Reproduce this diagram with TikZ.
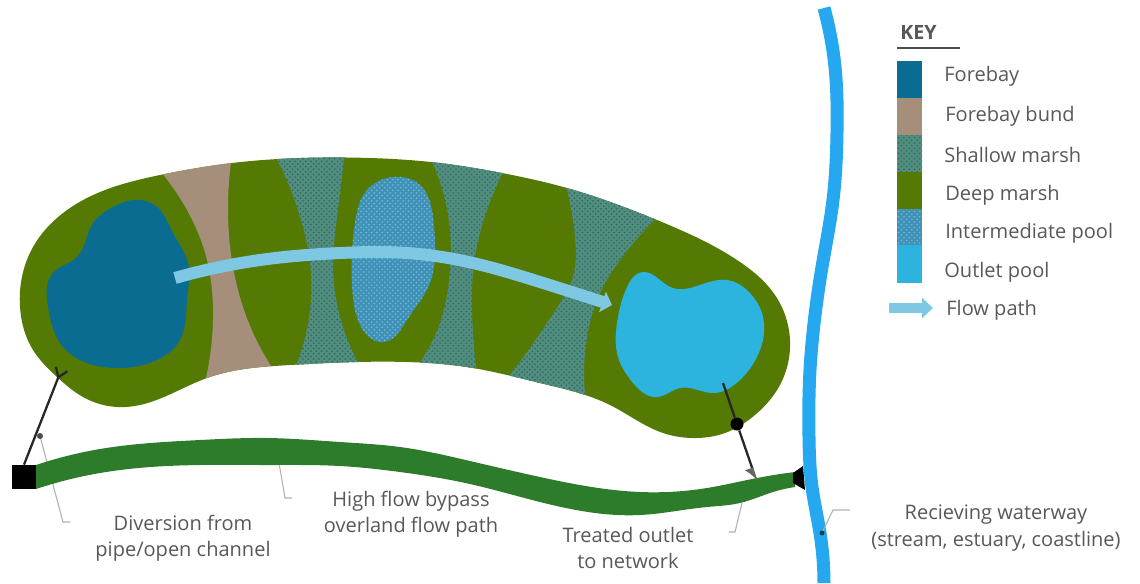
\documentclass[tikz,border=0pt]{standalone}
\usepackage{fontspec}
\setmainfont{Open Sans}
\usepackage{xcolor}
\definecolor{wlforebay}{RGB}{10,108,145}
\definecolor{wlbund}{RGB}{165,143,122}
\definecolor{wlshallow}{RGB}{80,142,128}
\definecolor{wldeep}{RGB}{84,122,4}
\definecolor{wlinter}{RGB}{62,146,184}
\definecolor{wloutlet}{RGB}{44,180,222}
\definecolor{wlflow}{RGB}{126,200,228}
\definecolor{wlriver}{RGB}{38,168,240}
\definecolor{wlbypass}{RGB}{44,124,44}
\definecolor{wltext}{RGB}{88,88,88}
\definecolor{wlleader}{RGB}{176,176,176}
\usetikzlibrary{arrows.meta,patterns,hobby}
\tikzset{
  txt/.style={font=\fontsize{11.4}{14.9}\selectfont,text=wltext,inner sep=0pt,align=center},
  keytxt/.style={txt,anchor=west},
  leader/.style={draw=wlleader,line width=0.6pt},
  pipeline/.style={draw=black!85,line width=1.3pt},
  shallow/.style={preaction={fill=wlshallow},pattern=crosshatch dots,pattern color=wlshallow!70!black},
  interpool/.style={preaction={fill=wlinter},pattern=crosshatch dots,pattern color=wlinter!65!white},
  flow/.style={draw=wlflow,line width=0.24cm,-{Triangle[length=0.2cm,width=0.42cm]}},
  blob/.style={use Hobby shortcut,closed=true}
}
\newcommand{\bodyline}{(20,307) .. (33,247) .. (63,213) .. (100,192) .. (160,175) .. (232,163) .. (300,158) .. (370,158) .. (440,163) .. (502,173) .. (567,188) .. (657,220) .. (740,262) .. (775,295) .. (790,340) .. (780,385) .. (755,415) .. (725,433) .. (693,438) .. (663,433) .. (610,405) .. (540,383) .. (473,368) .. (407,362) .. (357,362) .. (290,365) .. (207,378) .. (140,405) .. (117,407) .. (83,397) .. (57,377) .. (33,350)}
\begin{document}
\begin{tikzpicture}[x=0.02cm,y=-0.02cm]
  \useasboundingbox (0,0) rectangle (1140,583);
  \fill[blob,wldeep] \bodyline;
  \begin{scope}
    \clip[blob] \bodyline;
    \fill[use Hobby shortcut,wlbund] (155,165) .. (187,210) .. (207,260) .. (213,310) .. (203,390) -- (285,385) .. (260,347) .. (233,267) .. (228,210) .. (232,155) -- cycle;
    \path[use Hobby shortcut,shallow] (272,150) .. (303,227) .. (310,263) .. (310,310) .. (292,375) -- (365,375) .. (340,317) .. (333,263) .. (337,217) .. (345,150) -- cycle;
    \path[use Hobby shortcut,shallow] (426,150) .. (450,230) .. (450,270) .. (440,323) .. (410,375) -- (478,385) .. (473,333) .. (473,273) .. (480,233) .. (510,160) -- cycle;
    \path[use Hobby shortcut,shallow] (563,175) .. (575,237) .. (572,280) .. (560,303) .. (500,388) -- (588,415) .. (587,337) .. (600,293) .. (620,260) .. (665,210) -- cycle;
  \end{scope}
  \fill[blob,wlforebay] (133,200) .. (157,207) .. (173,233) .. (188,263) .. (187,300) .. (180,340) .. (157,360) .. (120,368) .. (87,363) .. (63,347) .. (48,307) .. (53,273) .. (77,257) .. (93,223) .. (113,207);
  \path[blob,interpool] (393,177) .. (420,185) .. (433,217) .. (435,250) .. (430,283) .. (407,320) .. (383,342) .. (363,330) .. (353,297) .. (355,223) .. (367,190);
  \fill[blob,wloutlet] (643,272) .. (660,280) .. (673,288) .. (700,285) .. (727,280) .. (750,293) .. (762,313) .. (757,357) .. (740,380) .. (713,393) .. (680,388) .. (657,397) .. (633,383) .. (618,357) .. (617,323) .. (627,287);
  \draw[use Hobby shortcut,flow] (175,278) .. (260,260) .. (340,253) .. (407,253) .. (473,263) .. (540,282) .. (612,305);
  \draw[use Hobby shortcut,wlriver,line width=0.26cm] (824,8) .. (835,67) .. (837,133) .. (833,200) .. (822,267) .. (813,333) .. (810,370) .. (809,437) .. (812,487) .. (820,533) .. (824,583);
  \node[txt] (divlabel) at (183,538) {Diversion from\\pipe/open channel};
  \node[txt] (bypasslabel) at (411,514) {High flow bypass\\overland flow path};
  \node[txt] (outletlabel) at (628,548) {Treated outlet\\to network};
  \node[txt] (riverlabel) at (996,528) {Recieving waterway\\(stream, estuary, coastline)};
  \coordinate (divtip) at (40,436);
  \coordinate (divelbow) at (63,522);
  \coordinate (bypasstip) at (278,457);
  \coordinate (bypasselbow) at (285,498);
  \coordinate (outlettip) at (742,503);
  \coordinate (outletelbow) at (735,532);
  \coordinate (rivertip) at (822,533);
  \coordinate (riverelbow) at (833,510);
  \draw[leader] (divtip) -- (divelbow) -- ([xshift=-14]divlabel.west |- divelbow);
  \fill[black!70] (divtip) circle (3);
  \draw[leader] (bypasstip) -- (bypasselbow) -- ([xshift=-18]bypasslabel.west |- bypasselbow);
  \draw[leader] (outlettip) -- (outletelbow) -- ([xshift=20]outletlabel.east |- outletelbow);
  \draw[leader] (rivertip) -- (riverelbow) -- ([xshift=-12]riverlabel.west |- riverelbow);
  \fill[wlforebay!60!black] (rivertip) circle (2.5);
  \fill[black!65] (bypasstip) circle (2);
  \fill[use Hobby shortcut,wlbypass] (36,465) .. (100,449) .. (200,440) .. (267,438) .. (340,442) .. (400,447) .. (470,461) .. (540,477) .. (640,492) .. (707,488) .. (757,478) .. (795,472) -- (795,487) .. (773,492) .. (740,503) .. (707,507) .. (640,515) .. (540,502) .. (470,484) .. (400,472) .. (340,466) .. (267,465) .. (200,465) .. (100,473) .. (36,489) -- cycle;
  \node[fill=black,minimum size=0.48cm,inner sep=0pt] (inlet) at (24,477) {};
  \fill[black] (793,473) -- (803,466) -- (805,490) -- (793,483) -- cycle;
  \coordinate (inletend) at (62,368);
  \draw[pipeline,-{Straight Barb[reversed,length=5pt,width=7pt]}] (inlet.north) -- (inletend);
  \node[circle,fill=black,minimum size=0.26cm,inner sep=0pt] (valve) at (737,424) {};
  \coordinate (poolend) at (723,383);
  \coordinate (pipeend) at (757,482);
  \draw[pipeline] (poolend) -- (valve);
  \draw[pipeline,-{Latex[harpoon,swap,length=7pt,width=9pt,color=black!60]}] (valve) -- (pipeend);
  \node[txt,font=\fontsize{11.2}{14.7}\selectfont\bfseries,anchor=west] (keytitle) at (900,32) {KEY};
  \draw[black!70,line width=1.2pt] (897,48) -- (960,48);
  \fill[wlforebay] (897,61) rectangle (922,98);
  \node[keytxt] (keyforebay) at (944,76) {Forebay};
  \fill[wlbund] (897,98) rectangle (922,135);
  \node[keytxt] (keybund) at (945,116) {Forebay bund};
  \path[shallow] (897,135) rectangle (922,172);
  \node[keytxt] (keyshallow) at (944,155) {Shallow marsh};
  \fill[wldeep] (897,172) rectangle (922,209);
  \node[keytxt] (keydeep) at (945,195) {Deep marsh};
  \path[interpool] (897,209) rectangle (922,245);
  \node[keytxt] (keyinter) at (945,233) {Intermediate pool};
  \fill[wloutlet] (897,245) rectangle (922,283);
  \node[keytxt] (keyoutlet) at (944,272) {Outlet pool};
  \coordinate (keyflowstart) at (889,308);
  \coordinate (keyflowend) at (933,308);
  \draw[flow,line width=0.2cm,-{Triangle[length=0.22cm,width=0.4cm]}] (keyflowstart) -- (keyflowend);
  \node[keytxt] (keyflow) at (946,310) {Flow path};
\end{tikzpicture}
\end{document}
